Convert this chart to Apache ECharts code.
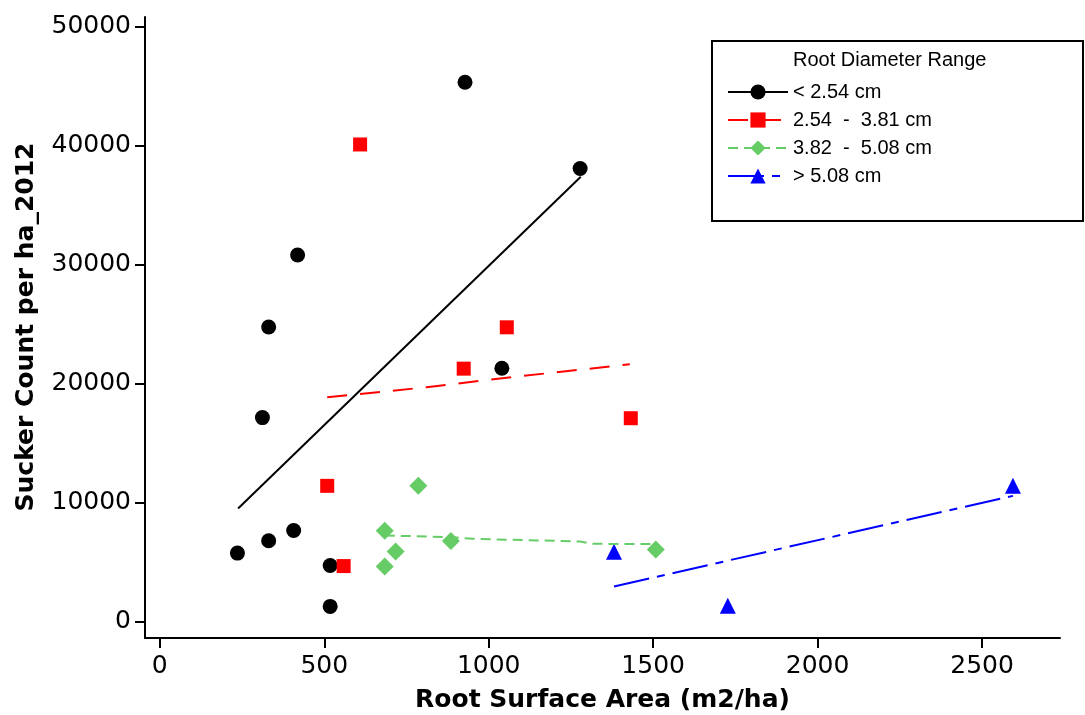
<!DOCTYPE html>
<html>
<head>
<meta charset="utf-8">
<script src="https://cdn.jsdelivr.net/npm/echarts@6/dist/echarts.min.js"></script>
<style>
  html, body { margin: 0; padding: 0; background: #fff; }
  #chart { width: 1085px; height: 715px; }
</style>
</head>
<body>
<div id="chart"></div>
<script>
// groups (root diameter range)
let groupNames = ['< 2.54 cm', '2.54  -  3.81 cm', '3.82  -  5.08 cm', '> 5.08 cm']
let groupColors = ['#000000', '#ff0000', '#66cc66', '#0000ff']
let groupSymbols = ['circle', 'rect', 'diamond', 'triangle']
let symbolSizes = [15, 14, 18, 16]

// observed points [root surface area, sucker count]
let pointsSmall = [[419, 30815], [331, 24765], [312, 17143], [236, 5748], [331, 6782],
  [407, 7647], [518, 4706], [518, 1261], [928, 45353], [1278, 38101], [1040, 21294]]
let pointsMid = [[609, 40118], [924, 21261], [1055, 24739], [1432, 17092], [509, 11403], [559, 4655]]
let pointsLarge = [[786, 11403], [684, 7622], [885, 6756], [717, 5882], [684, 4622], [1508, 6050]]
let pointsXL = [[1381, 5855], [1727, 1319], [2594, 11403]]

// fitted lines
let fitSmall = [[238, 9496], [1280, 37395]]
let fitMid = [[509, 18857], [811, 19697], [1075, 20563], [1429, 21630]]
let fitLarge = [[684, 7227], [887, 7092], [952, 6950], [1277, 6723], [1317, 6529], [1508, 6500]]
let fitXL = [[1381, 2941], [2594, 10560]]

let xTicks = [0, 500, 1000, 1500, 2000, 2500]
let yTicks = [0, 10000, 20000, 30000, 40000, 50000]

let allPoints = [pointsSmall, pointsMid, pointsLarge, pointsXL]
let allFits = [fitSmall, fitMid, fitLarge, fitXL]
let dashTypes = ['solid', [20, 13], [10, 6], [36, 8, 8, 8]]

let font = 'DejaVu Sans'
let legendFont = 'Liberation Sans'
let chart = echarts.init(document.getElementById('chart'))

let series = []
groupNames.forEach((name, i) => {
  series.push({
    name: name,
    type: 'line',
    data: allFits[i],
    symbol: groupSymbols[i],
    symbolSize: symbolSizes[i],
    showSymbol: false,
    silent: true,
    color: groupColors[i],
    lineStyle: { color: groupColors[i], width: 2, type: dashTypes[i] }
  })
})
groupNames.forEach((name, i) => {
  series.push({
    name: name,
    type: 'scatter',
    data: allPoints[i],
    symbol: groupSymbols[i],
    symbolSize: symbolSizes[i],
    itemStyle: { color: groupColors[i], opacity: 1 }
  })
})

let option = {
  animation: false,
  backgroundColor: '#ffffff',
  grid: { left: 145, right: 25, top: 17, bottom: 77, outerBoundsMode: 'none' },
  xAxis: {
    type: 'value',
    min: -45,
    max: 2737,
    name: 'Root Surface Area (m2/ha)',
    nameLocation: 'middle',
    nameGap: 50,
    nameTextStyle: { fontFamily: font, fontWeight: 'bold', fontSize: 25, color: '#000' },
    axisLine: { onZero: false, lineStyle: { color: '#000', width: 2 } },
    axisTick: { customValues: xTicks, length: 10, lineStyle: { color: '#000', width: 2 } },
    axisLabel: { customValues: xTicks, margin: 16, formatter: v => String(v), fontFamily: font, fontSize: 25, color: '#000' },
    splitLine: { show: false }
  },
  yAxis: {
    type: 'value',
    min: -1395,
    max: 50840,
    axisLine: { show: true, onZero: false, lineStyle: { color: '#000', width: 2 } },
    axisTick: { show: true, customValues: yTicks, length: 10, lineStyle: { color: '#000', width: 2 } },
    axisLabel: { customValues: yTicks, margin: 14, formatter: v => String(v), fontFamily: font, fontSize: 25, color: '#000' },
    splitLine: { show: false }
  },
  legend: {
    orient: 'vertical',
    left: 722,
    top: 77,
    itemWidth: 60,
    itemHeight: 19,
    itemGap: 8,
    selectedMode: false,
    data: groupNames,
    textStyle: { fontFamily: legendFont, fontSize: 20, color: '#000', padding: [0, 0, 0, 0] }
  },
  graphic: [
    {
      type: 'rect',
      shape: { x: 712, y: 41, width: 371, height: 180 },
      style: { fill: 'none', stroke: '#000', lineWidth: 2 }
    },
    {
      type: 'text',
      x: 793,
      y: 60,
      style: { text: 'Root Diameter Range', font: '20px "Liberation Sans"', fill: '#000', textVerticalAlign: 'middle' }
    },
    {
      type: 'text',
      x: 26,
      y: 327,
      rotation: Math.PI / 2,
      style: {
        text: 'Sucker Count per ha_2012',
        font: 'bold 25px "DejaVu Sans"',
        fill: '#000',
        textAlign: 'center',
        textVerticalAlign: 'middle'
      }
    }
  ],
  series: series
}
chart.setOption(option)
</script>
</body>
</html>
